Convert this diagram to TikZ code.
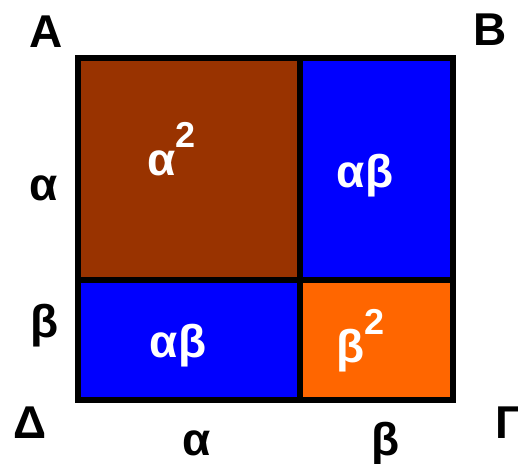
\documentclass[tikz,border=0pt]{standalone}
\usepackage{fontspec}
\setmainfont{Liberation Sans}
\definecolor{cbrown}{HTML}{993300}
\definecolor{cblue}{HTML}{0000FF}
\definecolor{corange}{HTML}{FF6600}
\tikzset{
  cell/.style={draw=black,line width=6pt},
  lbl/.style={font=\fontsize{46}{46}\selectfont\bfseries,anchor=base,inner sep=0pt},
  wlbl/.style={lbl,text=white},
}
\newcommand{\supTwo}{\raisebox{28pt}{\fontsize{36}{36}\selectfont\bfseries 2}}
\begin{document}
\begin{tikzpicture}[x=1pt,y=-1pt]
\useasboundingbox (0,0) rectangle (518,463);
\fill[cbrown] (78,58) rectangle (300,280);
\fill[cblue] (300,58) rectangle (453,280);
\fill[cblue] (78,280) rectangle (300,400);
\fill[corange] (300,280) rectangle (453,400);
\draw[cell] (78,58) rectangle (453,400);
\draw[cell] (300,58) -- (300,400);
\draw[cell] (78,280) -- (453,280);
\node[lbl] (A) at (46,47) {A};
\node[lbl] (B) at (490,45) {B};
\node[lbl] (D) at (30,438) {Δ};
\node[lbl,anchor=base west] (G) at (495,438) {Γ};
\node[lbl] (la) at (44,200) {α};
\node[lbl] (lb) at (45,337) {β};
\node[lbl] (ba) at (197,455) {α};
\node[lbl] (bb) at (386,455) {β};
\node[wlbl,anchor=base west] (a2) at (147,175) {α\supTwo};
\node[wlbl] (ab1) at (365,187) {αβ};
\node[wlbl] (ab2) at (178,357) {αβ};
\node[wlbl,anchor=base west] (b2) at (336,362) {β\supTwo};
\end{tikzpicture}
\end{document}
